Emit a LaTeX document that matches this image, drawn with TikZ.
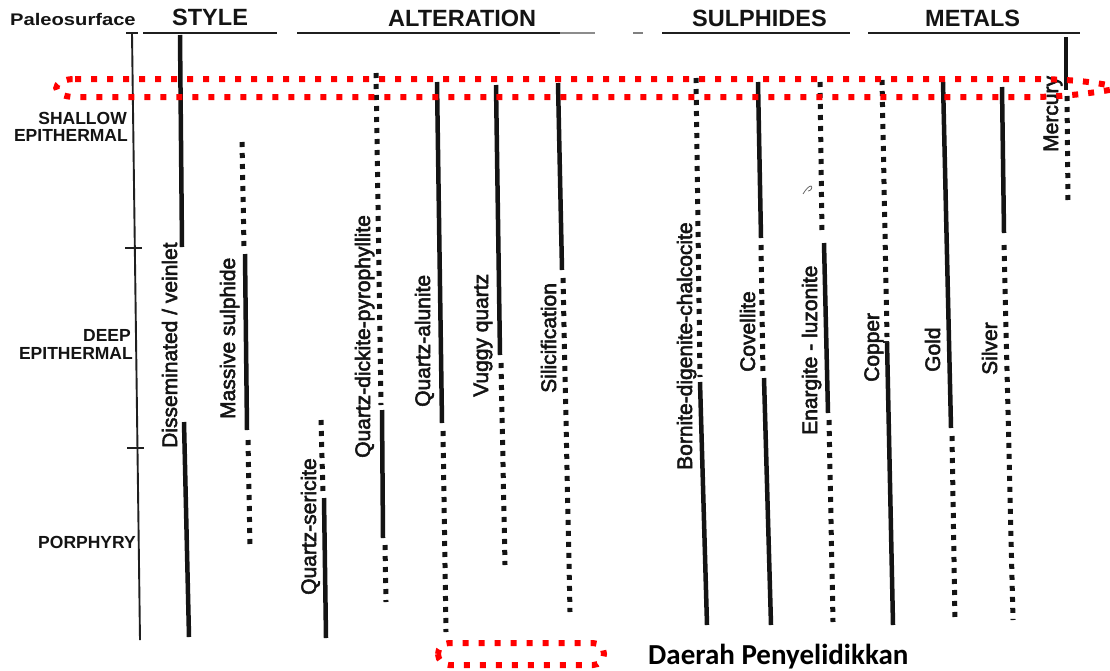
\documentclass[tikz,border=0pt]{standalone}
\usepackage{fontspec}
\usepackage{graphicx}
\setmainfont{Liberation Sans}
\newfontface\heavy[FakeBold=2.5]{Liberation Sans}
\newfontfamily\carlito{Carlito}
\begin{document}
\begin{tikzpicture}[x=1pt,y=-1pt,
  solidseg/.style={line width=4.5pt, black!92},
  dotseg/.style={line width=5pt, dash pattern=on 5pt off 6pt, black!92},
  thinline/.style={line width=1.9pt, black!88},
  vlabel/.style={rotate=90, anchor=base west, inner sep=0pt, text=black!92, font=\heavy\fontsize{21}{21}\selectfont},
  head/.style={anchor=base west, inner sep=0pt, text=black!92, font=\bfseries\fontsize{23.5}{24}\selectfont},
  zone/.style={anchor=base east, inner sep=0pt, text=black!92, font=\bfseries\fontsize{17.5}{18}\selectfont},
  reddots/.style={red, line width=6pt, dash pattern=on 6pt off 10pt}]
\useasboundingbox (0,0) rectangle (1110,670);
\fill[white] (0,0) rectangle (1110,670);

% ---- titles
\node[anchor=base west, inner sep=0pt, text=black!92, font=\bfseries\fontsize{16.8}{17}\selectfont] (paleo) at (10,25) {\scalebox{1.2}[1]{Paleosurface}};
\node[head] (hstyle) at (172,25) {STYLE};
\node[head] (halt) at (388,26) {ALTERATION};
\node[head] (hsul) at (692,26) {SULPHIDES};
\node[head] (hmet) at (925,26) {METALS};

% ---- header underlines
\draw[thinline] (143,33) -- (277,33);
\draw[thinline] (297,33) -- (560,33);
\draw[line width=1.8pt, black!45] (560,33) -- (595,33);
\draw[line width=1.5pt, black!50] (633,33) -- (643,33);
\draw[thinline] (662,33) -- (850,33);
\draw[thinline] (868,33) -- (1080,33);

% ---- depth axis
\draw[thinline] (132,33) -- (140,640);
\draw[thinline] (126,33) -- (138,33);
\draw[thinline] (125,248) -- (142,248);
\draw[thinline] (127,448) -- (144,448);

% ---- zone labels
\node[zone] (sh1) at (127,124) {SHALLOW};
\node[zone] (sh2) at (128,141) {EPITHERMAL};
\node[zone] (dp1) at (131,341) {DEEP};
\node[zone] (dp2) at (133,359) {EPITHERMAL};
\node[zone] (po) at (136,548) {PORPHYRY};

% ---- STYLE
\draw[solidseg] (180,35) -- (182,247);
\draw[solidseg] (184,422) -- (189,637);
\node[vlabel] (l1) at (177,448) {Disseminated / veinlet};
\draw[dotseg] (242,142) -- (244,247);
\draw[solidseg] (245,254) -- (247,430);
\draw[dotseg] (248,440) -- (250,546);
\node[vlabel] (l2) at (235,419) {Massive sulphide};

% ---- ALTERATION
\draw[dotseg] (321,420) -- (323,494);
\draw[solidseg] (324,498) -- (326,638);
\node[vlabel] (l3) at (316,595) {Quartz-sericite};
\draw[dotseg] (376,73) -- (381,405);
\draw[solidseg] (382,410) -- (383,538);
\draw[dotseg] (385,545) -- (386,602);
\node[vlabel] (l4) at (370,458) {Quartz-dickite-pyrophyllite};
\draw[solidseg] (437,82) -- (442,423);
\draw[dotseg] (443,431) -- (446,632);
\node[vlabel] (l5) at (430,407) {Quartz-alunite};
\draw[solidseg] (496,85) -- (500,355);
\draw[dotseg] (501,363) -- (505,565);
\node[vlabel] (l6) at (488,397) {Vuggy quartz};
\draw[solidseg] (558,83) -- (562,270);
\draw[dotseg] (563,278) -- (570,612);
\node[vlabel] (l7) at (556,393) {Silicification};

% ---- SULPHIDES
\draw[dotseg] (696,78) -- (700,377);
\draw[solidseg] (700,382) -- (707,625);
\node[vlabel] (l8) at (692,470) {Bornite-digenite-chalcocite};
\draw[solidseg] (758,82) -- (761,238);
\draw[dotseg] (761,245) -- (763,375);
\draw[solidseg] (764,378) -- (771,625);
\node[vlabel] (l9) at (755,372) {Covellite};
\draw[dotseg] (820,82) -- (822,235);
\draw[solidseg] (824,243) -- (828,413);
\draw[dotseg] (829,420) -- (833,622);
\node[vlabel] (l10) at (817,435) {Enargite - luzonite};
\draw[line width=0.8pt, black!60] (803,194) .. controls (806,189) and (809,186) .. (811,186) .. controls (813,187) and (811,191) .. (808,191);

% ---- METALS
\draw[dotseg] (882,80) -- (887,337);
\draw[solidseg] (887,342) -- (893,625);
\draw[line width=2pt, black!88] (883,342) -- (889,342);
\node[vlabel] (l11) at (879,382) {Copper};
\draw[solidseg] (943,82) -- (951,428);
\draw[dotseg] (952,436) -- (955,622);
\node[vlabel] (l12) at (940,372) {Gold};
\draw[solidseg] (1002,87) -- (1004,233);
\draw[dotseg] (1004,245) -- (1013,620);
\node[vlabel] (l13) at (997,375) {Silver};
\draw[solidseg] (1066,37) -- (1066,90);
\draw[dotseg] (1067,96) -- (1068,202);
\node[vlabel] (l14) at (1058,152) {Mercury};

% ---- red highlights
\draw[reddots] (75,79) -- (1040,79) .. controls (1085,80) and (1105,84) .. (1120,88)
  .. controls (1105,91) and (1070,97) .. (1030,97) -- (75,97)
  .. controls (50,97) and (50,79) .. (75,79);
\draw[reddots, rounded corners=11pt] (438,643) rectangle (604,665);
\node[anchor=base west, inner sep=0pt, font=\carlito\bfseries\fontsize{29}{29}\selectfont] (daerah) at (648,664) {Daerah Penyelidikkan};
\end{tikzpicture}
\end{document}
